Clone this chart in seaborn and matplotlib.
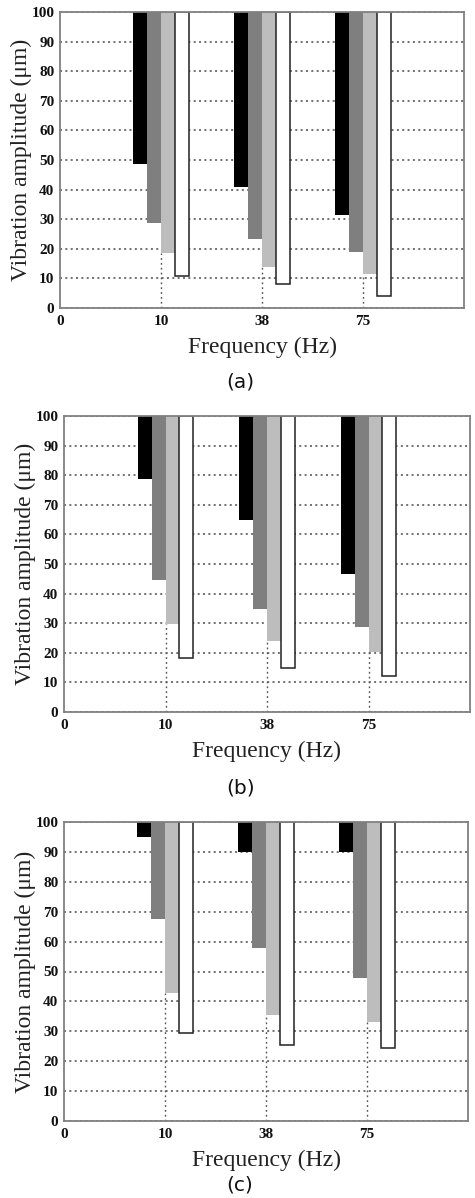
import numpy as np
import pandas as pd
import matplotlib
matplotlib.use("Agg")
import matplotlib.pyplot as plt
import seaborn as sns

# ---- data ----
freqs = ["10", "38", "75"]
series = ["S1", "S2", "S3", "S4"]
panel_a = [[48.5, 41.0, 31.5],   # S1 (black)
           [28.6, 23.4, 18.9],   # S2 (dark gray)
           [18.5, 13.7, 11.6],   # S3 (light gray)
           [10.7, 8.1, 3.9]]     # S4 (white)
panel_b = [[78.8, 64.8, 46.7],
           [44.5, 34.7, 28.7],
           [29.8, 24.0, 20.3],
           [18.4, 14.9, 12.3]]
panel_c = [[95.1, 90.0, 90.0],
           [67.7, 58.0, 47.9],
           [42.8, 35.3, 33.1],
           [29.5, 25.5, 24.5]]
panel_tags = ["(a)", "(b)", "(c)"]
xtick_labels = ["0", "10", "38", "75"]
yticks = [0, 10, 20, 30, 40, 50, 60, 70, 80, 90, 100]
colors = ["#000000", "#7f7f7f", "#bdbdbd", "#ffffff"]

sns.set_theme(style="white")
plt.rcParams["font.family"] = ["Liberation Serif", "DejaVu Serif"]

W, H = 475, 1198
fig = plt.figure(figsize=(W / 100, H / 100), dpi=100)

# axes boxes in pixels: left, right, top, bottom
boxes = [(60, 464, 12, 308), (64, 470, 416, 712), (64, 468, 822, 1121)]
tag_pos = [(240, 382), (241, 788), (240, 1185)]

for vals, tag, box, tp in zip([panel_a, panel_b, panel_c], panel_tags, boxes, tag_pos):
    l, r, t, b = box
    ax = fig.add_axes([l / W, 1 - b / H, (r - l) / W, (b - t) / H])
    rows = []
    for s, svals in zip(series, vals):
        for f, v in zip(freqs, svals):
            rows.append({"freq": f, "series": s, "value": v, "drop": v - 100})
    df = pd.DataFrame(rows)
    sns.barplot(data=df, x="freq", y="drop", hue="series", order=freqs,
                hue_order=series, palette=colors, width=0.55, bottom=100,
                linewidth=0, legend=False, ax=ax, saturation=1)
    for bar in ax.containers[-1]:
        bar.set_edgecolor("#222222")
        bar.set_linewidth(1.1)
    # dotted drop lines from axis to light-gray bar bottom
    ax.vlines(np.arange(len(freqs)), 0, vals[2], colors="#555555",
              linestyles=(0, (1.3, 2.2)), linewidth=1.0, zorder=0.8)
    ax.set_xlim(-1, 3)
    ax.set_ylim(0, 100)
    ax.set_xticks([-1, 0, 1, 2])
    ax.set_xticklabels(xtick_labels)
    ax.set_yticks(yticks)
    ax.set_yticklabels([str(v) for v in yticks])
    ax.yaxis.grid(True, linestyle=(0, (1.3, 2.2)), color="#4a4a4a", linewidth=1.1)
    ax.xaxis.grid(False)
    ax.set_axisbelow(True)
    ax.tick_params(axis="both", length=0, labelsize=11, colors="#111111")
    ax.tick_params(axis="x", pad=5)
    ax.tick_params(axis="y", pad=4)
    for lab in ax.get_xticklabels() + ax.get_yticklabels():
        lab.set_fontweight("bold")
    for sp in ax.spines.values():
        sp.set_color("#808080")
        sp.set_linewidth(1.3)
        sp.set_visible(True)
    ax.set_xlabel("Frequency (Hz)", fontsize=17, color="#222222", va="center")
    ax.xaxis.set_label_coords(0.5, -(39) / (b - t))
    ax.set_ylabel("Vibration amplitude (μm)", fontsize=17, color="#222222", va="center")
    ax.yaxis.set_label_coords(-39 / (r - l), 0.5)
    fig.text(tp[0] / W, 1 - tp[1] / H, tag, ha="center", va="center",
             fontsize=14.5, family=["DejaVu Sans"], color="#111111")

fig.savefig("out.png", dpi=100)
